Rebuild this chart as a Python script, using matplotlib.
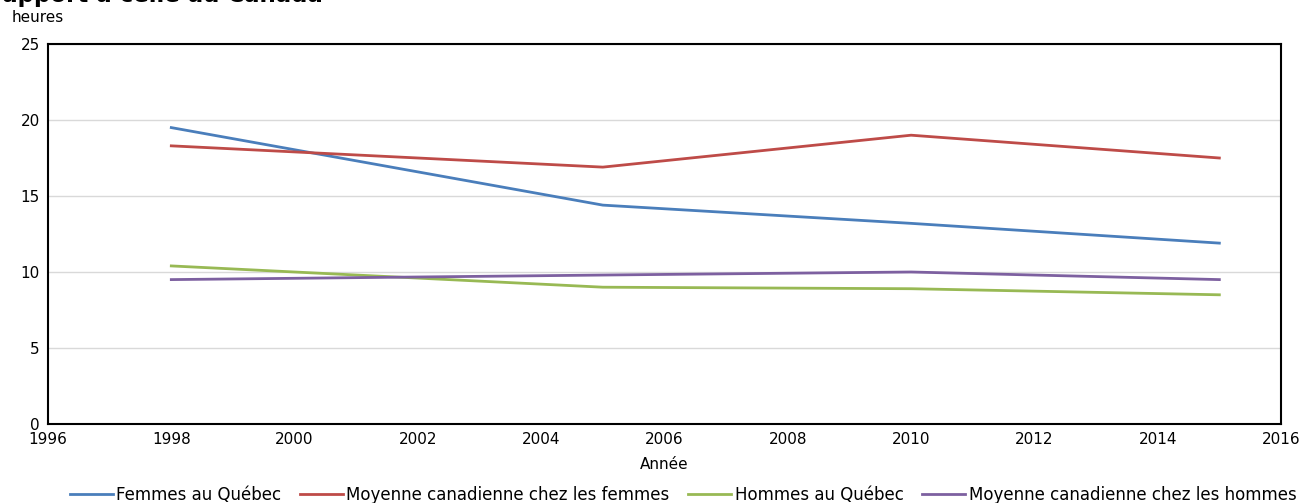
import matplotlib.pyplot as plt

# Data
annees = [1998, 2005, 2010, 2015]
femmes_qc = [19.5, 14.4, 13.2, 11.9]
moy_femmes_ca = [18.3, 16.9, 19.0, 17.5]
hommes_qc = [10.4, 9.0, 8.9, 8.5]
moy_hommes_ca = [9.5, 9.8, 10.0, 9.5]

series = [
    ("Femmes au Québec", femmes_qc, "#4a7ebb"),
    ("Moyenne canadienne chez les femmes", moy_femmes_ca, "#be4b48"),
    ("Hommes au Québec", hommes_qc, "#98b954"),
    ("Moyenne canadienne chez les hommes", moy_hommes_ca, "#7d60a0"),
]

plt.rcParams['font.family'] = ['DejaVu Sans']

fig = plt.figure(figsize=(13.05, 5.03), dpi=100)
ax = fig.add_axes([48 / 1305, 1 - 424 / 503, (1281 - 48) / 1305, (424 - 44) / 503])

for label, values, color in series:
    ax.plot(annees, values, color=color, linewidth=2.0, label=label)

ax.set_xlim(1996, 2016)
ax.set_ylim(0, 25)
ax.set_xticks(range(1996, 2017, 2))
ax.set_yticks(range(0, 26, 5))
ax.tick_params(length=0, labelsize=11, pad=6)
ax.grid(axis='y', color='#d9d9d9', linewidth=1)
ax.set_axisbelow(True)
for spine in ax.spines.values():
    spine.set_color('black')
    spine.set_linewidth(1.5)

ax.set_xlabel("Année", fontsize=11, labelpad=7)
fig.text(12 / 1305, 1 - 18 / 503, "heures", fontsize=11, va='center', ha='left')

# title cut off at the top in the reference
fig.text(323 / 1305, 1 - 2 / 503, "rapport à celle au Canada", fontsize=16.5,
         fontweight='bold', ha='right', va='baseline')

ax.legend(loc='upper center', bbox_to_anchor=(0.515, -0.162), ncol=4, frameon=False,
          fontsize=12, handlelength=2.6, handletextpad=0.2, columnspacing=1.1,
          borderaxespad=0, borderpad=0)

fig.savefig("out.png", dpi=100)
